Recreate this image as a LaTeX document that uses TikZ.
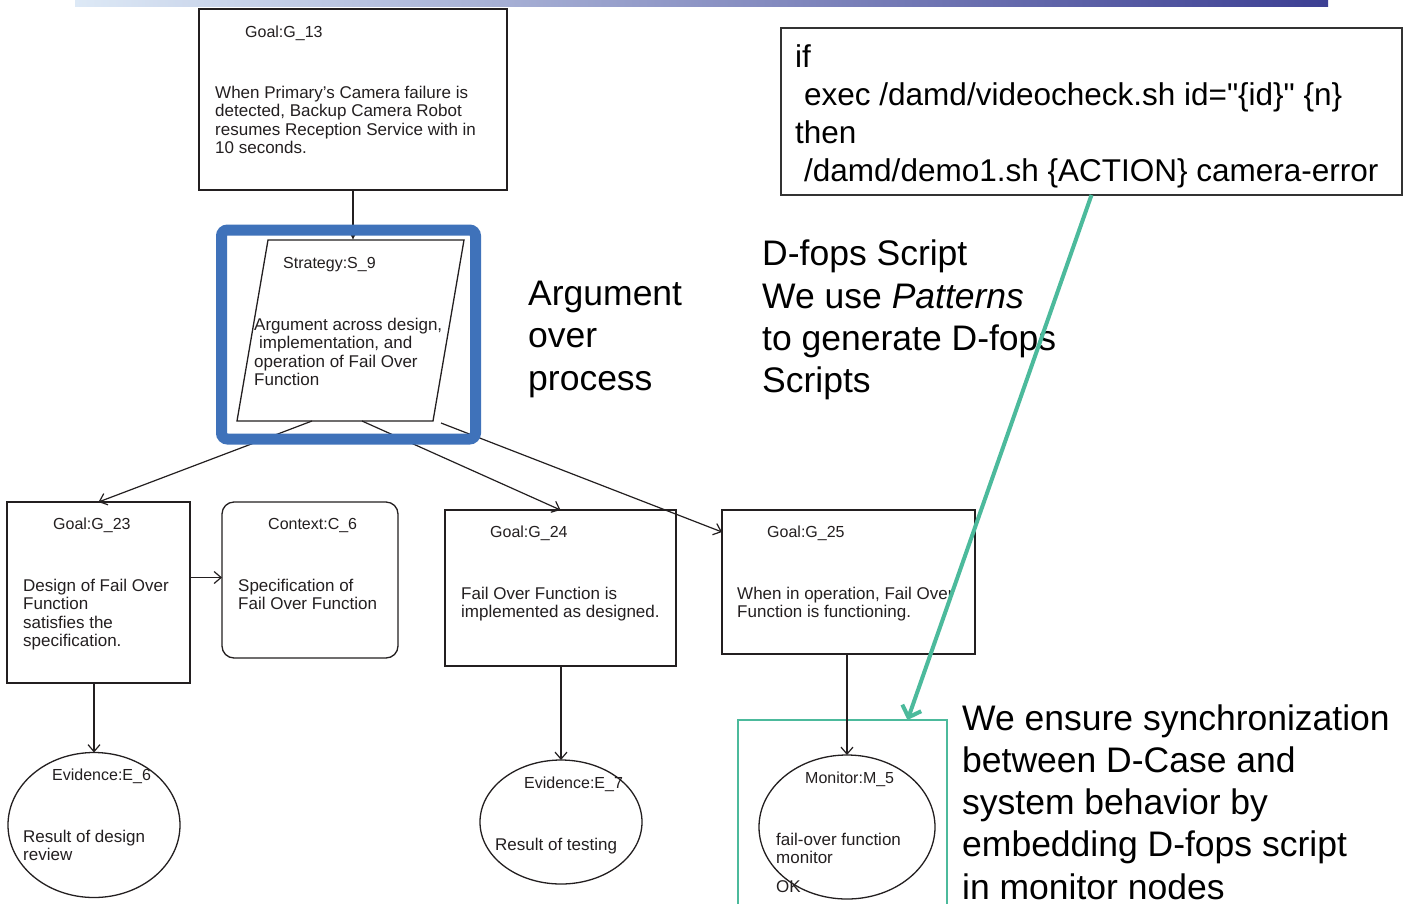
\documentclass[tikz,border=0pt]{standalone}
\usepackage{fontspec}
\setmainfont{Liberation Sans}
% the script text keeps straight quotes
\newfontfamily\codefont{Liberation Sans}[Ligatures=TeXOff]
\usetikzlibrary{arrows.meta,shapes.geometric,calc}

\definecolor{ink}{HTML}{231F20}
\definecolor{frameblue}{HTML}{3F72BA}
\definecolor{linkteal}{HTML}{4CBA9C}
\definecolor{barleft}{HTML}{DDE9F6}
\definecolor{barright}{HTML}{3C3F93}
\definecolor{codeline}{HTML}{333333}

\begin{document}
% multi-line texts are placed by the baseline of their last line
\begin{tikzpicture}[x=1pt,y=-1pt,
  goalbox/.style={draw=ink, line width=1.3pt, anchor=north west, inner sep=0pt, outer sep=0pt},
  ctxbox/.style={goalbox, rounded corners=12pt},
  evid/.style={draw=ink, line width=1.3pt, ellipse, inner sep=0pt, outer sep=0pt},
  ttl/.style={anchor=base west, inner sep=0pt, text=ink, font=\fontsize{16}{18.5}\selectfont},
  body/.style={anchor=base west, inner sep=0pt, text=ink, align=left, font=\fontsize{17}{18.5}\selectfont},
  big/.style={anchor=base west, inner sep=0pt, text=black, align=left, font=\fontsize{35.5}{42.2}\selectfont},
  code/.style={anchor=base west, inner sep=0pt, text=black, align=left, font=\codefont\fontsize{31.5}{38}\selectfont},
  arr/.style={draw=ink, line width=1.2pt, -{Straight Barb[length=7pt,width=12pt]}},
  line/.style={draw=ink, line width=1.3pt}
]
\useasboundingbox (0,0) rectangle (1413,903);
\fill[white] (0,0) rectangle (1413,903);

% header bar
\shade[left color=barleft, right color=barright] (75,0) rectangle (1328,6);

% top goal
\node[goalbox, minimum width=308pt, minimum height=181pt] (g13) at (199,9) {};
\node[ttl] (g13t) at (245,37) {Goal:G\_13};
\node[body] (g13b) at (215,153.5) {When Primary's Camera failure is\\detected, Backup Camera Robot\\resumes Reception Service with in\\10 seconds.};

% strategy parallelogram
\coordinate (s9tl) at (268,240);
\coordinate (s9tr) at (464,240);
\coordinate (s9br) at (433,421);
\coordinate (s9bl) at (237,421);
\coordinate (s9in) at (353,240);
\coordinate (s9o1) at (312,421);
\coordinate (s9o2) at (362,421);
\coordinate (s9o3) at (441,423);
\draw[line] (s9tl) -- (s9tr) -- (s9br) -- (s9bl) -- cycle;
\node[ttl] (s9t) at (283,268) {Strategy:S\_9};
\node[body] (s9b) at (254,385.5) {Argument across design,\\\hspace{5pt}implementation, and\\operation of Fail Over\\Function};

% second level goals and context
\node[goalbox, minimum width=183pt, minimum height=181pt] (g23) at (7,502) {};
\node[ttl] (g23t) at (53,529) {Goal:G\_23};
\node[body] (g23b) at (23,646.5) {Design of Fail Over\\Function\\satisfies the\\specification.};

\node[ctxbox, minimum width=176pt, minimum height=156pt] (c6) at (222,502) {};
\node[ttl] (c6t) at (268,529) {Context:C\_6};
\node[body] (c6b) at (238,609.5) {Specification of\\Fail Over Function};

\node[goalbox, minimum width=231pt, minimum height=156pt] (g24) at (445,510) {};
\node[ttl] (g24t) at (490,537) {Goal:G\_24};
\node[body] (g24b) at (461,617.5) {Fail Over Function is\\implemented as designed.};

\node[goalbox, minimum width=253pt, minimum height=144pt] (g25) at (722,510) {};
\node[ttl] (g25t) at (767,537) {Goal:G\_25};
\node[body] (g25b) at (737,617.5) {When in operation, Fail Over\\Function is functioning.};

% evidence and monitor
\node[evid, minimum width=172pt, minimum height=145pt] (e6) at (94,825) {};
\node[ttl] (e6t) at (52,780) {Evidence:E\_6};
\node[body] (e6b) at (23,860.5) {Result of design\\review};

\node[evid, minimum width=162pt, minimum height=124pt] (e7) at (561,822) {};
\node[ttl] (e7t) at (524,788) {Evidence:E\_7};
\node[body] (e7b) at (495,850) {Result of testing};

\node[goalbox, draw=linkteal, minimum width=209pt, minimum height=200pt] (mon) at (738,720) {};
\node[evid, minimum width=176pt, minimum height=144pt] (m5) at (847,827) {};
\node[ttl] (m5t) at (805,783) {Monitor:M\_5};
\node[body] (m5b) at (776,863.5) {fail-over function\\monitor};
\node[body] (m5ok) at (776,892) {OK};

% connectors
\draw[draw=ink, line width=1.2pt, -{Latex[length=5pt,width=5pt]}] (g13.south) -- (s9in);
\draw[arr] (s9o1) -- (g23.north);
\draw[arr] (s9o2) -- (g24.north);
\draw[arr] (s9o3) -- ([yshift=-22pt]g25.north west);
\draw[arr] ([yshift=15pt]g23.east) -- ([yshift=15pt]g23.east -| c6.west);
\draw[arr] (e6.north |- g23.south) -- (e6.north);
\draw[arr] (e7.north |- g24.south) -- (e7.north);
\draw[arr] (m5.north |- g25.south) -- (m5.north);

% highlight frame round the strategy
\draw[frameblue, line width=11pt, rounded corners=6pt] (221.5,230) rectangle (475.5,439);

% annotations
\node[big] (argtxt) at (528,390) {Argument\\over\\process};
\node[big] (fopstxt) at (762,392.5) {D-fops Script\\We use \textit{Patterns}\\to generate D-fops\\Scripts};
\node[big] (synctxt) at (962,899) {We ensure synchronization\\between D-Case and\\system behavior by\\embedding D-fops script\\in monitor nodes};

% script box
\node[goalbox, draw=codeline, minimum width=621pt, minimum height=167pt] (script) at (781,28) {};
\node[code] (scripttxt) at (795,181) {if\\\hspace{9pt}exec /damd/videocheck.sh id="\{id\}" \{n\}\\then\\\hspace{9pt}/damd/demo1.sh \{ACTION\} camera-error};

% link from the script to the monitor
\draw[linkteal, line width=4pt, -{Straight Barb[length=10pt,width=20pt]}] (script.south) -- ([xshift=65pt]mon.north);
\end{tikzpicture}
\end{document}
